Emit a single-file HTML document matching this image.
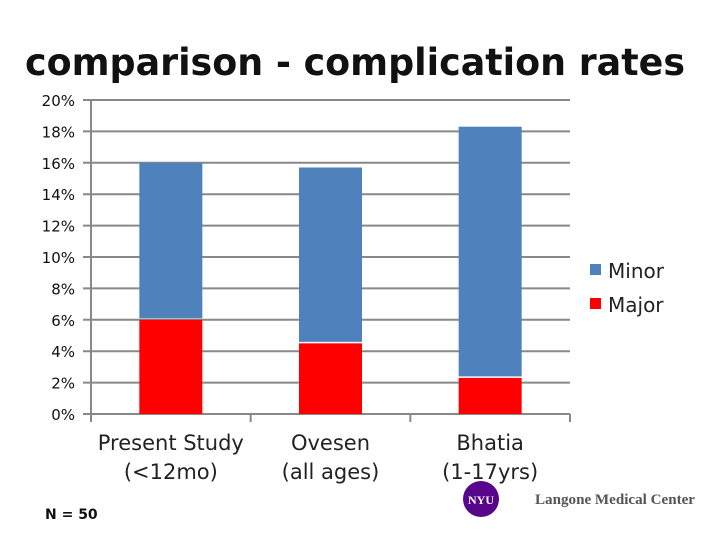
<!DOCTYPE html>
<html><head><meta charset="utf-8"><style>
body{margin:0;width:720px;height:540px;background:#fff;overflow:hidden;font-family:"DejaVu Sans","Liberation Sans",sans-serif}
svg{position:absolute;left:0;top:0}
</style></head><body>
<svg id="c" width="720" height="540">
<text x="25" y="75" textLength="660" lengthAdjust="spacingAndGlyphs" font-size="37" font-weight="bold" fill="#111" font-family="DejaVu Sans, sans-serif">comparison - complication rates</text>
<rect x="590" y="264" width="11" height="11" fill="#4f81bd"/>
<text x="608" y="278" font-size="20" fill="#222">Minor</text>
<rect x="590" y="298" width="11" height="11" fill="#ff0000"/>
<text x="608" y="312" font-size="20" fill="#222">Major</text>
<text x="45" y="519" font-size="14" font-weight="bold" fill="#111">N = 50</text>
<circle cx="481" cy="499" r="18" fill="#57068c"/>
<text x="481" y="504" text-anchor="middle" font-size="12" font-weight="bold" fill="#fff" font-family="Liberation Serif, serif">NYU</text>
<text x="535" y="504" textLength="160" lengthAdjust="spacingAndGlyphs" font-size="15" font-weight="bold" fill="#555" font-family="Liberation Serif, serif">Langone Medical Center</text>
<g id="plot"></g>
</svg>
<script>
const categories=[["Present Study","(<12mo)"],["Ovesen","(all ages)"],["Bhatia","(1-17yrs)"]];
const majorVals=[6,4.5,2.3];
const minorVals=[10,11.2,16];
const yTicks=[0,2,4,6,8,10,12,14,16,18,20];
const NS="http://www.w3.org/2000/svg";
const g=document.getElementById('plot');
const x0=91,x1=570,y0=414,y20=100;
const y=v=>y0-(v/20)*(y0-y20);
const band=(x1-x0)/categories.length;
const cx=i=>x0+band*(i+0.5);
function el(t,a){const e=document.createElementNS(NS,t);for(const k in a)e.setAttribute(k,a[k]);g.appendChild(e);return e;}
yTicks.forEach(v=>{
 const l=el('line',{x1:83,x2:x1,y1:y(v),y2:y(v),stroke:'#888','stroke-width':2});
 
 
 const t=el('text',{x:75,y:y(v)+6,'text-anchor':'end','font-size':15,fill:'#111'});
 t.textContent=v+'%';
 
 
});
const ax=el('line',{x1:x0,x2:x0,y1:y20,y2:y0+8,stroke:'#888','stroke-width':2});


for(let i=1;i<=categories.length;i++){
 const tk=el('line',{x1:x0+band*i,x2:x0+band*i,y1:y0,y2:y0+8,stroke:'#888','stroke-width':2});
 
 
}
const bw=63;
categories.forEach((c,i)=>{
 const m=el('rect',{x:cx(i)-bw/2,y:y(majorVals[i]),width:bw,height:y0-y(majorVals[i]),fill:'#ff0000'});
 
 
 const tot=majorVals[i]+minorVals[i];
 const n=el('rect',{x:cx(i)-bw/2,y:y(tot),width:bw,height:y(majorVals[i])-y(tot)-1.5,fill:'#4f81bd'});
 
 
 c.forEach((s,j)=>{
  const t=el('text',{x:cx(i),y:450+j*29,'text-anchor':'middle','font-size':21,fill:'#222'});
  t.textContent=s;
  
  
 });
});
</script>
</body></html>
